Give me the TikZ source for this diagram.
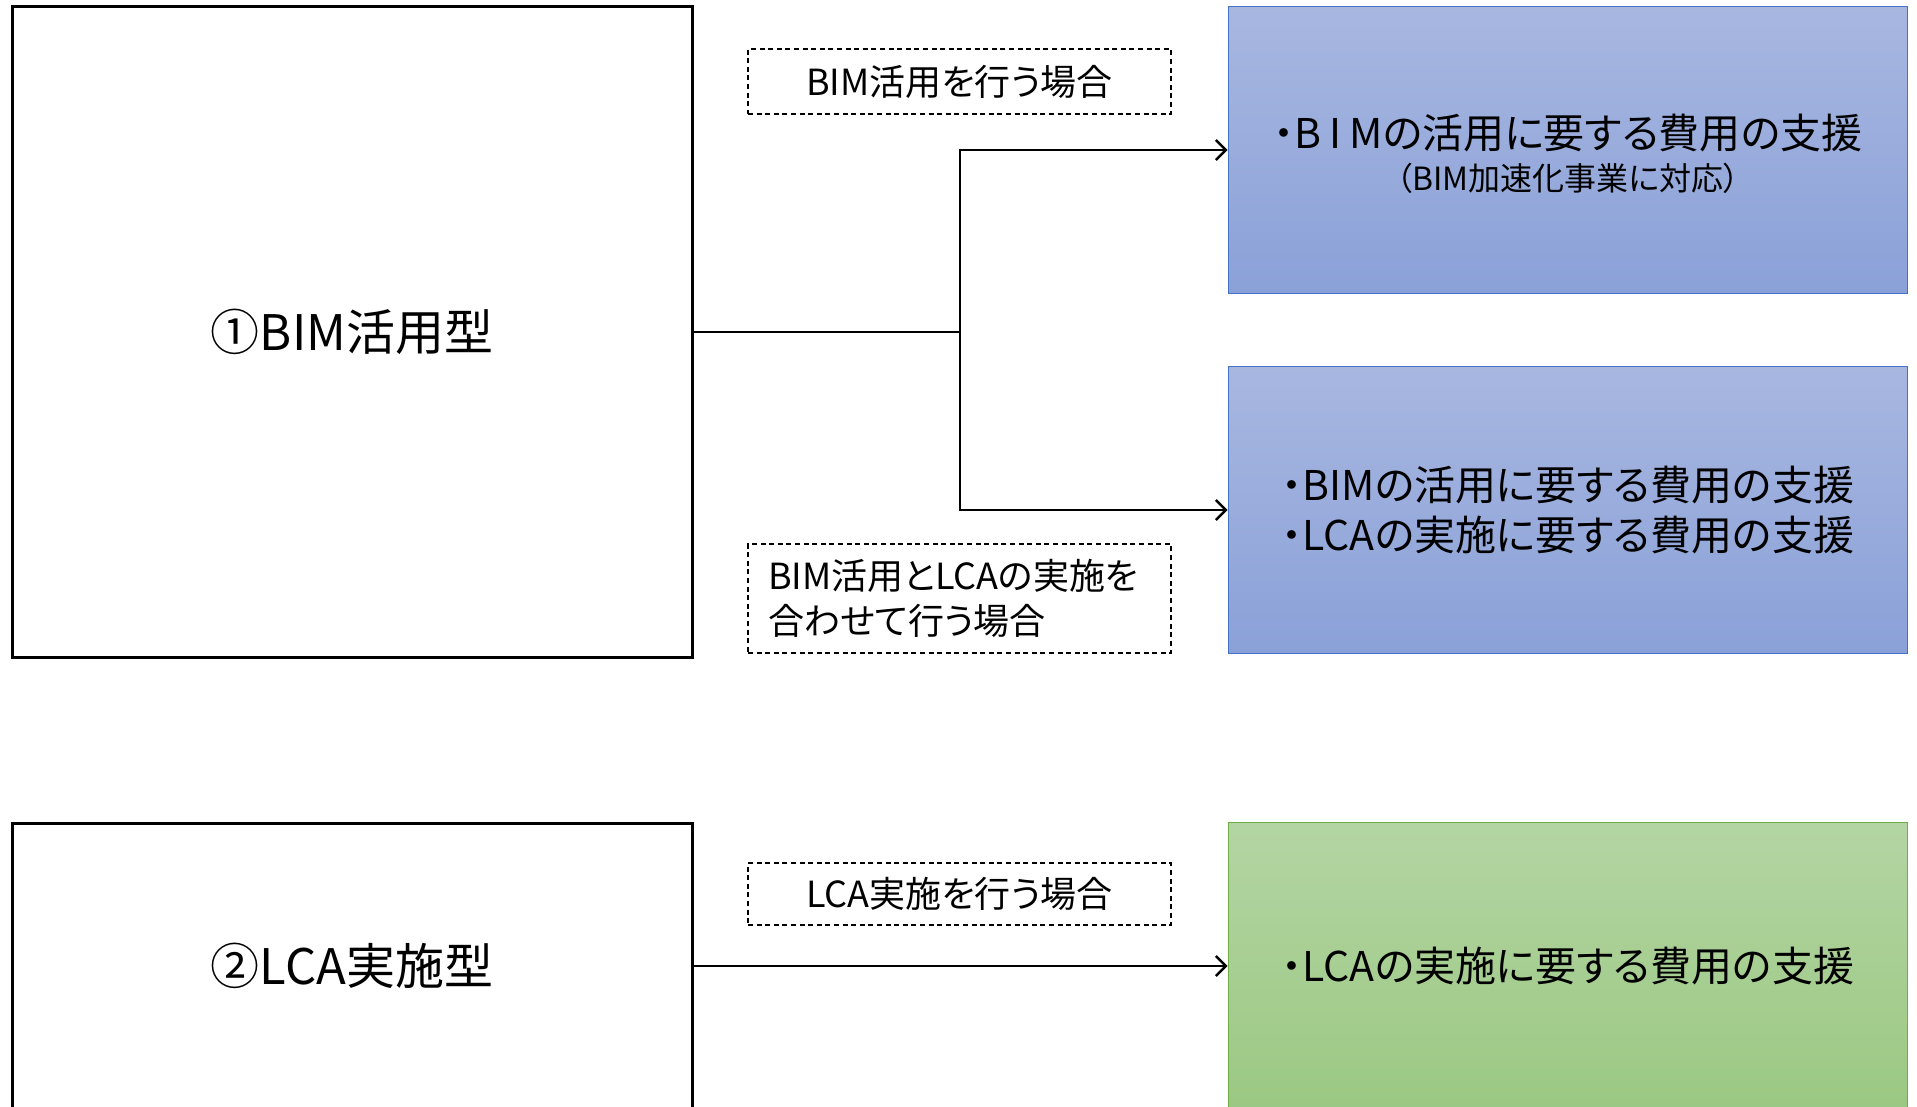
\documentclass[tikz,border=0pt]{standalone}
\usepackage{fontspec}
\setmainfont{Noto Sans CJK JP}[RawFeature=+palt]
\usetikzlibrary{arrows.meta}
\definecolor{bluetop}{HTML}{A8B7E0}
\definecolor{bluebot}{HTML}{8AA1D8}
\definecolor{blueline}{HTML}{4472C4}
\definecolor{greentop}{HTML}{B4D5A3}
\definecolor{greenbot}{HTML}{9BC883}
\definecolor{greenline}{HTML}{70AD47}
\begin{document}
\begin{tikzpicture}[x=0.5pt,y=-0.5pt,
  typebox/.style={draw=black,line width=1.5pt,fill=white,minimum width=340pt,minimum height=325pt,inner sep=0pt,font=\fontsize{24.5}{30}\selectfont},
  bluebox/.style={draw=blueline,line width=0.8pt,top color=bluetop,bottom color=bluebot,minimum width=339.5pt,minimum height=143.5pt,inner sep=0pt,align=center,font=\fontsize{20.5}{25}\selectfont},
  greenbox/.style={bluebox,draw=greenline,top color=greentop,bottom color=greenbot},
  boxtext/.style={inner sep=0pt,align=center,font=\fontsize{20.5}{25}\selectfont},
  condbox/.style={draw=black,line width=0.9pt,dash pattern=on 2.5pt off 1.8pt,minimum width=211.5pt,minimum height=32.5pt,inner sep=0pt,font=\fontsize{18}{22.5}\selectfont},
  conn/.style={draw=black,line width=1.3pt},
  arr/.style={conn,-{Straight Barb[length=5pt,width=10pt,line width=1.3pt]}}
]
\clip (0,0) rectangle (1917,1107);
\fill[white] (0,0) rectangle (1917,1107);

\node[typebox] (t1) at (352,332) {①BIM活用型};
\node[typebox,minimum height=143pt] (t2) at (352,966) {②LCA実施型};

\node[bluebox] (r1) at (1568,150) {};
\node[boxtext] (r1t) at (1568,154) {・B\kern0.2em I\kern0.2em Mの活用に要する費用の支援\\[-4pt]{\fontsize{16}{19}\selectfont （BIM加速化事業に対応）}};
\node[bluebox] (r2) at (1568,510) {・BIMの活用に要する費用の支援\\・LCAの実施に要する費用の支援};
\node[greenbox] (r3) at (1568,966) {・LCAの実施に要する費用の支援};

\node[condbox] (c1) at (959.5,81.5) {BIM活用を行う場合};
\node[condbox,minimum height=54.5pt,text width=191.5pt,align=left,inner xsep=10pt] (c2) at (959.5,598.5) {BIM活用とLCAの実施を\\合わせて行う場合};
\node[condbox,minimum height=31pt] (c3) at (959.5,894) {LCA実施を行う場合};

\coordinate (j) at (960,332);
\draw[conn] (t1.east) -- (j);
\draw[arr] (j) |- (r1.west);
\draw[arr] (j) |- (r2.west);
\draw[arr] (t2.east) -- (r3.west);
\end{tikzpicture}
\end{document}
